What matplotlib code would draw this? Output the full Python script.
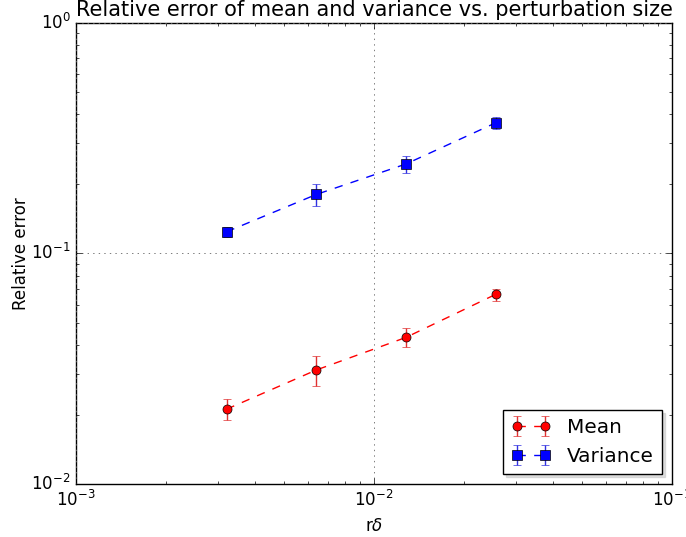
import matplotlib
matplotlib.use('Agg')
import matplotlib.pyplot as plt
import numpy as np

plt.style.use('classic')
plt.rcParams['mathtext.fontset'] = 'dejavusans'

# perturbation sizes
r_delta = [0.0032, 0.0064, 0.0128, 0.0256]

# relative error of the mean
mean_err = [0.0211, 0.0312, 0.0432, 0.0664]
mean_err_sd = [0.0022, 0.0046, 0.0041, 0.0040]

# relative error of the variance
var_err = [0.124, 0.180, 0.244, 0.368]
var_err_sd = [0.006, 0.019, 0.021, 0.021]

fig = plt.figure(figsize=(6.86, 5.37), dpi=100, facecolor='white')
ax = fig.add_axes([0.1108, 0.0987, 0.8688, 0.859])

ax.errorbar(r_delta, mean_err, yerr=mean_err_sd, fmt='--o', color='r',
            ecolor='#e03030', capsize=3, markersize=6.5, label='Mean')
ax.errorbar(r_delta, var_err, yerr=var_err_sd, fmt='--s', color='b',
            ecolor='#3030e0', capsize=3, markersize=6.5, label='Variance')

ax.set_xscale('log')
ax.set_yscale('log')
ax.set_xlim(1e-3, 1e-1)
ax.set_ylim(1e-2, 1e0)
ax.grid(True, which='major', color='0.4', linestyle=':', linewidth=0.6)

ax.set_xlabel(r'r$\delta$')
ax.set_ylabel('Relative error', labelpad=1)
ax.set_title('Relative error of mean and variance vs. perturbation size', fontsize=15)
ax.legend(loc='lower right', shadow={'color': '0.75'}, numpoints=2)

fig.savefig('out.png', dpi=100, facecolor='white')
